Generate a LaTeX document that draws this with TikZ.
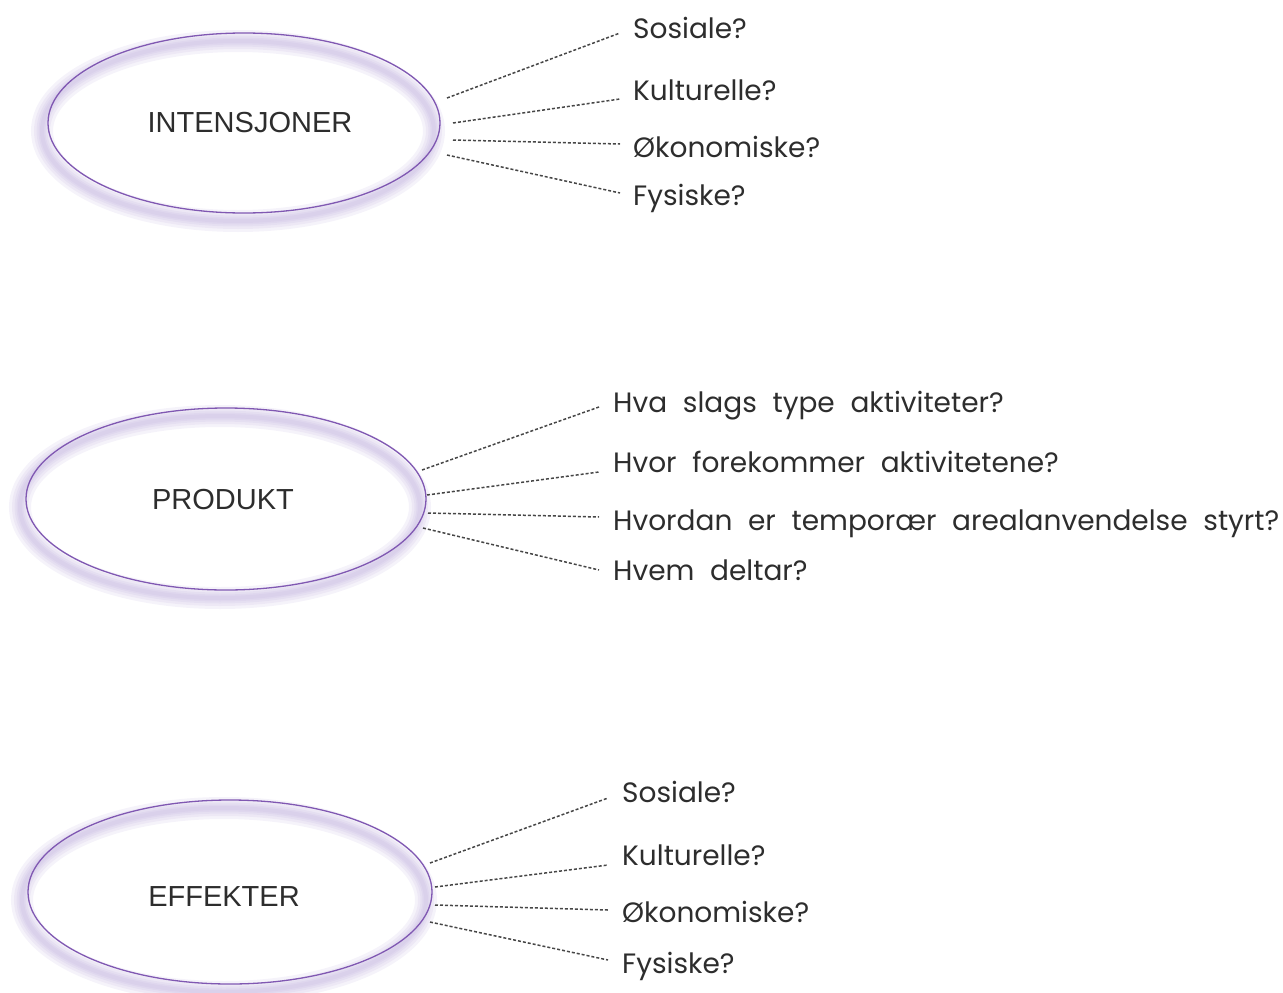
\documentclass[tikz,border=0pt]{standalone}
\usepackage{fontspec}
\setmainfont{Poppins}[WordSpace=2.1]
\newfontfamily\labfont{Liberation Sans}
\usetikzlibrary{shapes.geometric}
\definecolor{ring}{RGB}{128,88,178}
\definecolor{glowc}{RGB}{185,168,218}
\definecolor{ink}{RGB}{45,45,45}
\definecolor{dotc}{RGB}{70,70,70}
\begin{document}
\begin{tikzpicture}[x=1pt,y=-1pt,
  oval/.style={ellipse,draw=ring,line width=1.3pt,inner sep=0pt},
  lab/.style={inner sep=0pt,text=ink,font=\labfont\fontsize{29}{31}\selectfont},
  q/.style={anchor=base west,inner sep=0pt,text=ink,font=\fontsize{28}{30}\selectfont},
  conn/.style={draw=dotc,line width=1.5pt,dash pattern=on 3pt off 2pt}]
\useasboundingbox (0,0) rectangle (1283,993);
% glows
\foreach \cx/\cy/\rx/\ry in {244/123/196/90, 226/499/200/91, 230/892/202/92}{
  \foreach \w in {22,16,11,7,4}{
    \draw[glowc,line width=\w pt,opacity=0.14] (\cx-6,\cy+8) ellipse [x radius=\rx, y radius=\ry];
  }
}
% ellipses
\node[oval,minimum width=392pt,minimum height=180pt] (e1) at (244,123) {};
\node[oval,minimum width=400pt,minimum height=182pt] (e2) at (226,499) {};
\node[oval,minimum width=404pt,minimum height=184pt] (e3) at (230,892) {};
\node[lab] (l1) at ([shift={(6,0)}]e1.center) {INTENSJONER};
\node[lab] (l2) at ([shift={(-3,1)}]e2.center) {PRODUKT};
\node[lab] (l3) at ([shift={(-6,5)}]e3.center) {EFFEKTER};
% block 1
\node[q] (q11) at (633,38) {Sosiale?};
\node[q] (q12) at (633,100) {Kulturelle?};
\node[q] (q13) at (633,157) {Økonomiske?};
\node[q] (q14) at (633,205) {Fysiske?};
\coordinate (s11) at (447,98);
\coordinate (s12) at (453,123);
\coordinate (s13) at (453,140);
\coordinate (s14) at (447,155);
\draw[conn] (s11) -- ([shift={(-13,-5)}]q11.base west);
\draw[conn] (s12) -- ([shift={(-13,-1)}]q12.base west);
\draw[conn] (s13) -- ([shift={(-13,-13)}]q13.base west);
\draw[conn] (s14) -- ([shift={(-13,-12)}]q14.base west);
% block 2
\node[q] (q21) at (613,412) {Hva slags type aktiviteter?};
\node[q] (q22) at (613,472) {Hvor forekommer aktivitetene?};
\node[q] (q23) at (613,530) {Hvordan er temporær arealanvendelse styrt?};
\node[q] (q24) at (613,580) {Hvem deltar?};
\coordinate (s21) at (422,470);
\coordinate (s22) at (427,495);
\coordinate (s23) at (428,513);
\coordinate (s24) at (423,528);
\draw[conn] (s21) -- ([shift={(-14,-5)}]q21.base west);
\draw[conn] (s22) -- ([shift={(-14,0)}]q22.base west);
\draw[conn] (s23) -- ([shift={(-14,-13)}]q23.base west);
\draw[conn] (s24) -- ([shift={(-14,-10)}]q24.base west);
% block 3
\node[q] (q31) at (622,802) {Sosiale?};
\node[q] (q32) at (622,865) {Kulturelle?};
\node[q] (q33) at (622,922) {Økonomiske?};
\node[q] (q34) at (622,973) {Fysiske?};
\coordinate (s31) at (430,863);
\coordinate (s32) at (435,887);
\coordinate (s33) at (435,905);
\coordinate (s34) at (430,922);
\draw[conn] (s31) -- ([shift={(-14,-4)}]q31.base west);
\draw[conn] (s32) -- ([shift={(-14,0)}]q32.base west);
\draw[conn] (s33) -- ([shift={(-14,-12)}]q33.base west);
\draw[conn] (s34) -- ([shift={(-14,-13)}]q34.base west);
\end{tikzpicture}
\end{document}
